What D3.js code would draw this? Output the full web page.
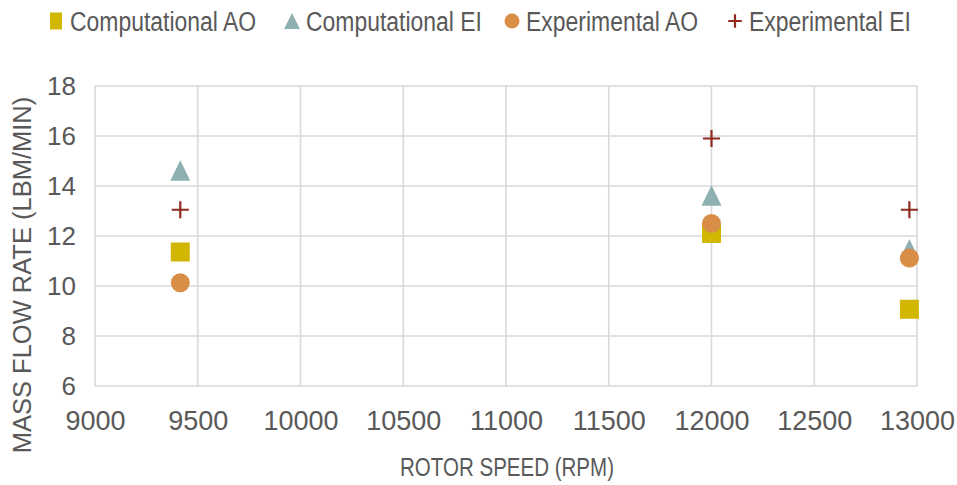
<!DOCTYPE html>
<html>
<head>
<meta charset="utf-8">
<script src="https://cdn.jsdelivr.net/npm/d3@7"></script>
<style>
  html, body { margin: 0; padding: 0; background: #fff; }
  svg { display: block; }
  text { fill: #595959; }
</style>
</head>
<body>
<svg id="chart" width="957" height="485"></svg>
<script>
// Rotor speeds (RPM) at which mass flow was measured / computed
const rotorSpeeds = [9415, 12000, 12963];

// Mass flow rate (lbm/min) per series
const computationalAO = [11.36, 12.1, 9.07];
const computationalEI = [14.62, 13.62, 11.47];
const experimentalAO  = [10.13, 12.5, 11.12];
const experimentalEI  = [13.05, 15.9, 13.05];

const seriesNames = ["Computational AO", "Computational EI", "Experimental AO", "Experimental EI"];
const seriesShapes = ["square", "triangle", "circle", "plus"];
const seriesColors = ["#d1b700", "#8fb0b1", "#d98e47", "#8e2a1f"];

const xTicks = [9000, 9500, 10000, 10500, 11000, 11500, 12000, 12500, 13000];
const yTicks = [6, 8, 10, 12, 14, 16, 18];

const xTitle = "ROTOR SPEED (RPM)";
const yTitle = "MASS FLOW RATE (LBM/MIN)";

const seriesValues = [computationalAO, computationalEI, experimentalAO, experimentalEI];

const svg = d3.select("#chart");
const FONT = "'Liberation Sans', Arial, sans-serif";

const plot = { left: 95, right: 917, top: 86, bottom: 386 };

const x = d3.scaleLinear().domain([9000, 13000]).range([plot.left, plot.right]);
const y = d3.scaleLinear().domain([6, 18]).range([plot.bottom, plot.top]);

// Gridlines
const grid = svg.append("g").attr("stroke", "#d9d9d9").attr("stroke-width", 1.6);
grid.selectAll("line.h").data(yTicks).join("line")
  .attr("x1", plot.left).attr("x2", plot.right)
  .attr("y1", d => y(d)).attr("y2", d => y(d));
grid.selectAll("line.v").data(xTicks).join("line")
  .attr("y1", plot.top).attr("y2", plot.bottom)
  .attr("x1", d => x(d)).attr("x2", d => x(d));

// Axes (labels only; lines come from the grid)
const xAxis = d3.axisBottom(x).tickValues(xTicks).tickSize(0).tickPadding(0).tickFormat(d3.format("d"));
const gx = svg.append("g").attr("transform", `translate(0, ${plot.bottom + 35})`).call(xAxis);
gx.select(".domain").remove();
gx.selectAll("text").attr("font-family", FONT).attr("font-size", 27).attr("fill", "#595959")
  .attr("dy", "0.35em");

const yAxis = d3.axisLeft(y).tickValues(yTicks).tickSize(0).tickPadding(0);
const gy = svg.append("g").attr("transform", `translate(${plot.left - 19}, 0)`).call(yAxis);
gy.select(".domain").remove();
gy.selectAll("text").attr("font-family", FONT).attr("font-size", 26).attr("fill", "#595959");

// Axis titles (horizontal text is condensed slightly)
svg.append("text")
  .attr("transform", "translate(507, 467) scale(0.79, 1)")
  .attr("text-anchor", "middle").attr("dominant-baseline", "central")
  .attr("font-family", FONT).attr("font-size", 26)
  .text(xTitle);

svg.append("text")
  .attr("transform", "translate(22, 275) rotate(-90)")
  .attr("text-anchor", "middle").attr("dominant-baseline", "central")
  .attr("font-family", FONT).attr("font-size", 25.5)
  .text(yTitle);

// Marker drawing
function drawMarker(g, shape, color, size) {
  if (shape === "square") {
    g.append("rect").attr("x", -size / 2).attr("y", -size / 2)
      .attr("width", size).attr("height", size).attr("fill", color);
  } else if (shape === "triangle") {
    const w = size * 1.05, h = size * 1.08;
    g.append("path").attr("d", `M0,${-h / 2}L${w / 2},${h / 2}L${-w / 2},${h / 2}Z`).attr("fill", color);
  } else if (shape === "circle") {
    g.append("circle").attr("r", size / 2).attr("fill", color);
  } else if (shape === "plus") {
    const a = size * 0.45;
    g.append("path").attr("d", `M${-a},0H${a}M0,${-a}V${a}`)
      .attr("stroke", color).attr("stroke-width", 2.2).attr("fill", "none");
  }
}

// Data points, one layer per series
seriesValues.forEach((vals, si) => {
  const layer = svg.append("g");
  const pts = layer.selectAll("g").data(vals.map((v, i) => ({ x: rotorSpeeds[i], y: v }))).join("g")
    .attr("transform", d => `translate(${x(d.x)}, ${y(d.y)})`);
  pts.each(function () { drawMarker(d3.select(this), seriesShapes[si], seriesColors[si], 19); });
});

// Legend
const legendX = [56, 292, 512, 735];
const legend = svg.append("g");
seriesNames.forEach((name, i) => {
  const g = legend.append("g").attr("transform", `translate(${legendX[i]}, 21)`);
  if (seriesShapes[i] === "square") {
    g.append("rect").attr("x", -6).attr("y", -8.5).attr("width", 12).attr("height", 17).attr("fill", seriesColors[i]);
  } else {
    drawMarker(g, seriesShapes[i], seriesColors[i], 15);
  }
  g.append("text")
    .attr("transform", "translate(14, 0) scale(0.85, 1)")
    .attr("dominant-baseline", "central")
    .attr("font-family", FONT).attr("font-size", 27)
    .text(name);
});
</script>
</body>
</html>
